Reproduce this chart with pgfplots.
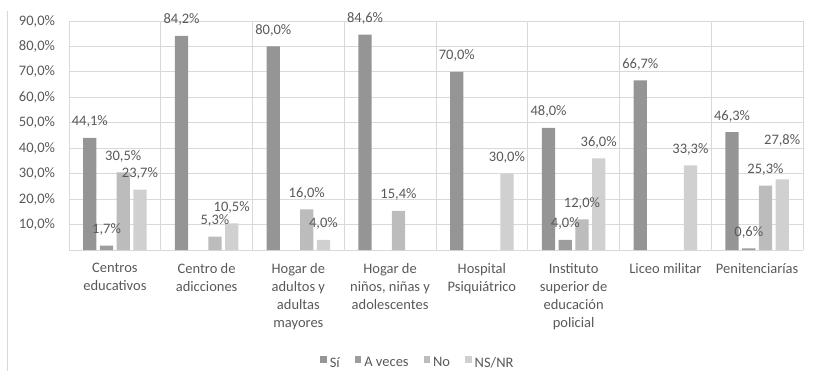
\documentclass[border=0pt]{standalone}
\usepackage{fontspec}
\setmainfont{Carlito}
\usepackage{pgfplots}
\pgfplotsset{compat=1.18}
\usepackage{pgfplotstable}
\definecolor{txt}{HTML}{595959}
\definecolor{grd}{HTML}{D9D9D9}
\definecolor{cSi}{HTML}{959595}
\definecolor{cAv}{HTML}{9D9D9D}
\definecolor{cNo}{HTML}{BCBCBC}
\definecolor{cNs}{HTML}{D0D0D0}

\pgfplotstableread{
x y off
0 44.1 12
1 84.2 12
2 80.0 12
3 84.6 12
4 70.0 12
5 48.0 12
6 66.7 12
7 46.3 12
}\tSi
\pgfplotstableread{
x y off
0 1.7 12
5 4.0 12
7 0.6 12
}\tAv
\pgfplotstableread{
x y off
0 30.5 12
1 5.3 12
2 16.0 12
3 15.4 12
5 12.0 12
7 25.3 12
}\tNo
\pgfplotstableread{
x y off
0 23.7 12
1 10.5 12
2 4.0 12
4 30.0 12
5 36.0 12
6 33.3 12
7 27.8 35
}\tNs

\begin{document}
\fontsize{14.5bp}{18bp}\selectfont
\color{txt}
\begin{tikzpicture}
\useasboundingbox (-69bp,-121bp) rectangle (746bp,250bp);
\draw[grd, line width=0.8bp] (-62bp,239bp) -- (-62bp,-121bp);
\begin{axis}[
  at={(0,0)}, anchor=south west,
  scale only axis, width=734bp, height=229bp,
  xmin=-0.5, xmax=7.5, ymin=0, ymax=90,
  ybar=3.4bp, bar width=13.3bp,
  axis line style={draw=none},
  major tick length=0pt, minor tick length=0pt,
  xtick={0,...,7},
  minor xtick={-0.5,0.5,...,7.5},
  xminorgrids=true,
  ytick={10,20,...,90},
  ymajorgrids=true,
  extra y ticks={0}, extra y tick labels={},
  extra y tick style={ymajorgrids=true},
  grid style={grd, line width=0.8bp},
  minor grid style={grd, line width=0.8bp},
  xticklabels={{Centros\\educativos},{Centro de\\adicciones},{Hogar de\\adultos y\\adultas\\mayores},{Hogar de\\niños, niñas y\\adolescentes},{Hospital\\Psiquiátrico},{Instituto\\superior de\\educación\\policial},{Liceo militar},{Penitenciarías}},
  xticklabel style={align=center, anchor=north, yshift=-8bp, text=txt},
  yticklabel style={anchor=east, xshift=-9bp, text=txt},
  /pgf/number format/.cd, assume math mode=true, use comma, fixed, fixed zerofill, precision=1,
  /pgfplots/.cd,
  yticklabel={\pgfmathprintnumber{\tick}\%},
  clip=false,
  visualization depends on={\thisrow{off} \as \myoff},
  nodes near coords={\pgfmathprintnumber{\pgfplotspointmeta}\%},
  every node near coord/.append style={anchor=base, inner sep=0pt, yshift=\myoff bp, text=txt},
  legend columns=4,
  legend style={at={(0.474,-0.493)}, anchor=center, draw=none, fill=none,
    nodes={inner sep=0pt, text=txt},
    /tikz/every odd column/.append style={column sep=3bp},
    /tikz/every even column/.append style={column sep=15bp}},
  legend image code/.code={\fill[#1] (0bp,0.3bp) rectangle (6.5bp,6.8bp);},
]
\addplot[fill=cSi, draw=none] table[x=x,y=y] {\tSi};
\addplot[fill=cAv, draw=none] table[x=x,y=y] {\tAv};
\addplot[fill=cNo, draw=none] table[x=x,y=y] {\tNo};
\addplot[fill=cNs, draw=none] table[x=x,y=y] {\tNs};
\legend{Sí, A veces, No, NS/NR}
\end{axis}
\end{tikzpicture}
\end{document}
